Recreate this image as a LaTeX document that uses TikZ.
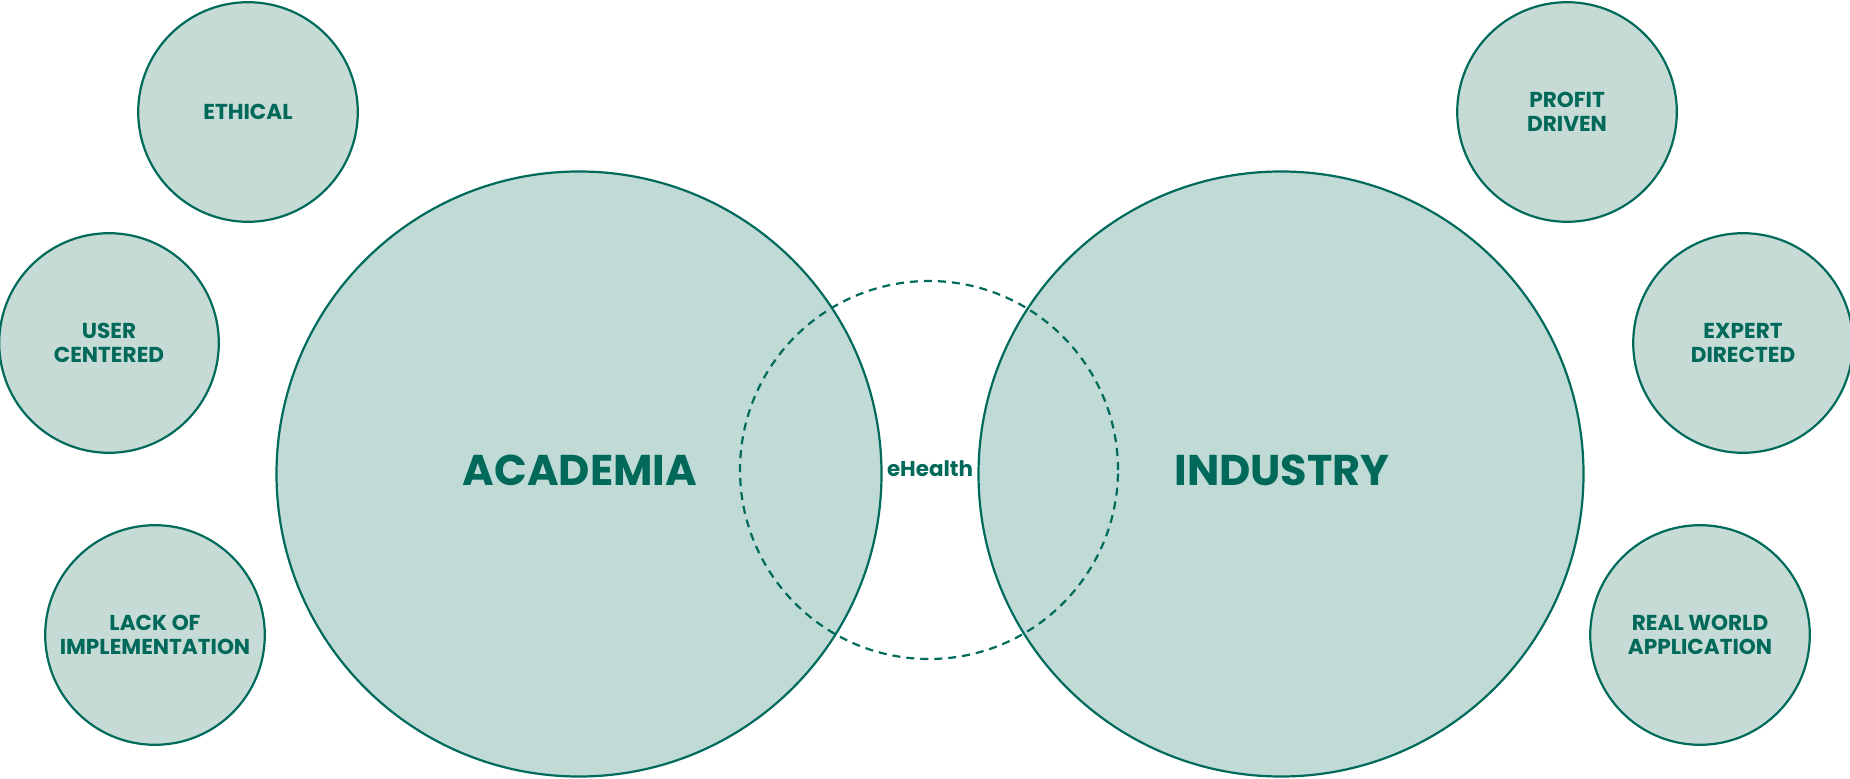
\documentclass[tikz,border=0pt]{standalone}
\usepackage{fontspec}
\setmainfont{Poppins}
\definecolor{dkgreen}{HTML}{006A5B}
\definecolor{txtgreen}{HTML}{00695A}
\definecolor{bigfill}{HTML}{C0DAD6}
\definecolor{smallfill}{HTML}{C7DBD6}
\begin{document}
\begin{tikzpicture}[x=0.5pt,y=-0.5pt,
  bigcircle/.style={circle, draw=dkgreen, fill=bigfill, line width=1.1pt, inner sep=0pt, outer sep=0pt, minimum size=302.5pt},
  smallcircle/.style={circle, draw=dkgreen, fill=smallfill, line width=1.1pt, inner sep=0pt, outer sep=0pt, minimum size=109.8pt,
    text=txtgreen, align=center, font=\fontsize{10.8}{12.2}\selectfont\bfseries},
  overlapcircle/.style={circle, draw=dkgreen, dashed, dash pattern=on 4pt off 3pt, line width=1.1pt, inner sep=0pt, outer sep=0pt, minimum size=189pt},
  bigtext/.style={text=txtgreen, font=\fontsize{21.5}{24}\selectfont\bfseries, inner sep=0pt},
  midtext/.style={text=txtgreen, font=\fontsize{10.7}{12}\selectfont\bfseries, inner sep=0pt}]
\useasboundingbox (0,0) rectangle (1850,779);
% small circles
\node[smallcircle] (ethical) at (248,112) {ETHICAL};
\node[smallcircle] (user) at (109,343) {USER\\CENTERED};
\node[smallcircle] (lack) at (155,635) {LACK OF\\IMPLEMENTATION};
\node[smallcircle] (profit) at (1567,112) {PROFIT\\DRIVEN};
\node[smallcircle] (expert) at (1743,343) {EXPERT\\DIRECTED};
\node[smallcircle] (real) at (1700,635) {REAL WORLD\\APPLICATION};
% big circles
\node[bigcircle] (academia) at (579,474) {};
\node[bigcircle] (industry) at (1281,474) {};
% dashed overlap circle
\node[overlapcircle] (ehealth) at (929,470) {};
% labels
\node[bigtext] (academialabel) at (580,470) {ACADEMIA};
\node[bigtext] (industrylabel) at (1282,470) {INDUSTRY};
\node[midtext] (ehealthlabel) at (930,469) {eHealth};
\end{tikzpicture}
\end{document}
